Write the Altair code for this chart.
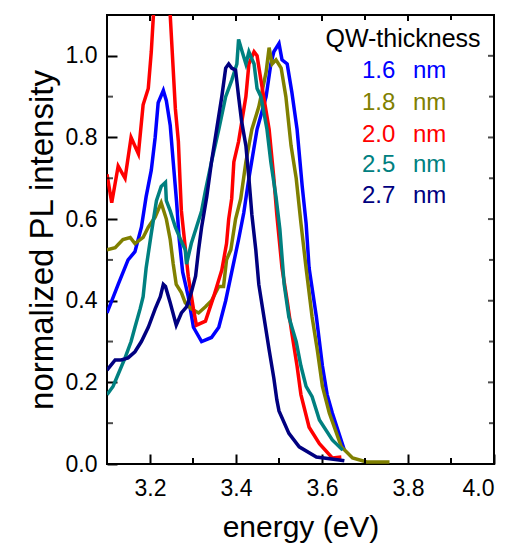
import altair as alt
import pandas as pd

# ---- data ----
names = ["1.6 nm", "1.8 nm", "2.0 nm", "2.5 nm", "2.7 nm"]
colors = ["#0000FF", "#808000", "#FF0000", "#008080", "#000080"]

blue_e = [3.100, 3.126, 3.149, 3.165, 3.180, 3.191, 3.203, 3.212, 3.219, 3.231, 3.238, 3.247, 3.254,
          3.262, 3.268, 3.276, 3.289, 3.301, 3.320, 3.343, 3.360, 3.376, 3.390, 3.406, 3.418, 3.430,
          3.449, 3.470, 3.481, 3.488, 3.500, 3.507, 3.519, 3.530, 3.542, 3.554, 3.563, 3.570, 3.587,
          3.601, 3.612, 3.624, 3.652]
blue_i = [0.37, 0.44, 0.50, 0.52, 0.58, 0.655, 0.72, 0.80, 0.885, 0.915, 0.89, 0.83, 0.74,
          0.64, 0.55, 0.47, 0.41, 0.335, 0.30, 0.31, 0.335, 0.40, 0.47, 0.55, 0.615, 0.70,
          0.82, 0.90, 0.98, 1.01, 1.03, 0.99, 0.98, 0.91, 0.82, 0.68, 0.59, 0.48, 0.36,
          0.24, 0.17, 0.125, 0.034]

olive_e = [3.100, 3.119, 3.137, 3.154, 3.165, 3.184, 3.196, 3.212, 3.226, 3.238, 3.247, 3.254, 3.261,
           3.273, 3.282, 3.296, 3.313, 3.329, 3.343, 3.360, 3.371, 3.378, 3.388, 3.399, 3.411, 3.423,
           3.437, 3.453, 3.470, 3.477, 3.484, 3.493, 3.505, 3.516, 3.528, 3.540, 3.551, 3.563, 3.577,
           3.589, 3.601, 3.617, 3.645, 3.671, 3.704, 3.757]
olive_i = [0.525, 0.53, 0.55, 0.555, 0.54, 0.555, 0.58, 0.605, 0.64, 0.60, 0.55, 0.49, 0.44,
           0.42, 0.395, 0.38, 0.37, 0.385, 0.40, 0.435, 0.435, 0.50, 0.525, 0.60, 0.65, 0.74,
           0.82, 0.875, 0.96, 1.02, 0.98, 0.99, 0.97, 0.90, 0.78, 0.70, 0.59, 0.48, 0.36,
           0.28, 0.19, 0.125, 0.042, 0.015, 0.005, 0.005]

red_e = [3.100, 3.111, 3.126, 3.142, 3.156, 3.173, 3.184, 3.196, 3.203, 3.208, 3.225, 3.247, 3.259,
         3.266, 3.270, 3.273, 3.278, 3.289, 3.301, 3.308, 3.329, 3.348, 3.367, 3.378, 3.383, 3.390,
         3.395, 3.406, 3.423, 3.430, 3.442, 3.449, 3.458, 3.477, 3.488, 3.495, 3.507, 3.519, 3.530,
         3.542, 3.551, 3.570, 3.594, 3.624, 3.645]
red_i = [0.71, 0.64, 0.73, 0.70, 0.80, 0.76, 0.88, 0.92, 1.01, 1.10, 1.45, 1.10, 0.87,
         0.79, 0.69, 0.62, 0.57, 0.46, 0.38, 0.34, 0.35, 0.41, 0.475, 0.54, 0.60, 0.65,
         0.74, 0.79, 0.90, 0.98, 1.01, 1.00, 0.94, 0.82, 0.70, 0.61, 0.48, 0.40, 0.32,
         0.24, 0.17, 0.09, 0.05, 0.015, 0.017]

teal_e = [3.100, 3.114, 3.126, 3.142, 3.156, 3.165, 3.177, 3.184, 3.191, 3.203, 3.215, 3.226, 3.236,
          3.238, 3.247, 3.259, 3.271, 3.282, 3.285, 3.296, 3.308, 3.320, 3.329, 3.343, 3.360, 3.376,
          3.390, 3.402, 3.406, 3.413, 3.423, 3.430, 3.442, 3.449, 3.458, 3.465, 3.472, 3.481, 3.493,
          3.502, 3.512, 3.523, 3.540, 3.551, 3.563, 3.577, 3.594, 3.624, 3.648]
teal_i = [0.17, 0.19, 0.22, 0.26, 0.30, 0.335, 0.38, 0.41, 0.48, 0.565, 0.645, 0.68, 0.69,
          0.645, 0.62, 0.58, 0.55, 0.525, 0.49, 0.54, 0.58, 0.62, 0.67, 0.74, 0.82, 0.90,
          0.94, 0.98, 1.04, 1.015, 0.98, 1.01, 0.98, 0.92, 0.90, 0.86, 0.82, 0.74, 0.655,
          0.575, 0.44, 0.36, 0.30, 0.24, 0.19, 0.165, 0.108, 0.059, 0.034]

navy_e = [3.100, 3.119, 3.133, 3.149, 3.165, 3.180, 3.196, 3.212, 3.224, 3.231, 3.236, 3.247, 3.261,
          3.273, 3.285, 3.296, 3.306, 3.313, 3.320, 3.332, 3.343, 3.355, 3.367, 3.376, 3.383, 3.390,
          3.399, 3.406, 3.413, 3.423, 3.430, 3.437, 3.446, 3.453, 3.465, 3.477, 3.488, 3.495, 3.500,
          3.523, 3.547, 3.587, 3.640, 3.652]
navy_i = [0.23, 0.255, 0.255, 0.26, 0.275, 0.30, 0.335, 0.38, 0.41, 0.44, 0.435, 0.395, 0.34,
          0.37, 0.385, 0.42, 0.46, 0.525, 0.58, 0.655, 0.74, 0.82, 0.90, 0.97, 0.98, 0.97,
          0.965, 0.90, 0.84, 0.78, 0.70, 0.61, 0.525, 0.44, 0.36, 0.28, 0.21, 0.157, 0.13,
          0.075, 0.042, 0.017, 0.01, 0.008]

legend_title = "QW-thickness"
legend_numbers = ["1.6", "1.8", "2.0", "2.5", "2.7"]
legend_unit = "nm"

x_major = [3.2, 3.4, 3.6, 3.8, 4.0]
x_minor = [3.1, 3.3, 3.5, 3.7, 3.9]
y_major = [0.0, 0.2, 0.4, 0.6, 0.8, 1.0]
y_minor = [0.1, 0.3, 0.5, 0.7, 0.9, 1.1]

# ---- build table ----
rows = []
for name, es, ys in zip(names, [blue_e, olive_e, red_e, teal_e, navy_e],
                        [blue_i, olive_i, red_i, teal_i, navy_i]):
    for k, (e, v) in enumerate(zip(es, ys)):
        rows.append({"series": name, "energy": e, "intensity": v, "idx": k})
df = pd.DataFrame(rows)

W, H = 387, 449
FONT = "Liberation Sans"
TK = 10
xs = alt.Scale(domain=[3.1, 4.0], nice=False, zero=False)
ys_ = alt.Scale(domain=[0.0, 1.1], nice=False, zero=False)

lines = alt.Chart(df).mark_line(strokeWidth=3.5, clip=True).encode(
    x=alt.X("energy:Q", scale=xs,
            axis=alt.Axis(values=x_major, format=".1f", ticks=True, tickSize=TK, offset=-TK,
                          tickColor="black", tickWidth=2, domain=False, grid=False,
                          labelFontSize=23, labelPadding=13, labelFont=FONT, labelColor="black",
                          title="energy (eV)", titleFontSize=30, titleFont=FONT,
                          titleFontWeight="normal", titlePadding=12, titleColor="black")),
    y=alt.Y("intensity:Q", scale=ys_,
            axis=alt.Axis(values=y_major, format=".1f", ticks=True, tickSize=TK, offset=-TK,
                          tickColor="black", tickWidth=2, domain=False, grid=False,
                          labelFontSize=23, labelPadding=10, labelFont=FONT, labelColor="black",
                          title="normalized PL intensity", titleFontSize=33, titleFont=FONT,
                          titleFontWeight="normal", titlePadding=6, titleColor="black")),
    color=alt.Color("series:N", scale=alt.Scale(domain=names, range=colors), legend=None),
    order="idx:Q",
)

xmin = pd.DataFrame({"tx": x_minor})
xmaj = pd.DataFrame({"tx": x_major})
ymin = pd.DataFrame({"ty": y_minor})
ymaj = pd.DataFrame({"ty": y_major})


def xticks(d, y0, y1):
    return alt.Chart(d).mark_rule(color="black", strokeWidth=2).encode(
        x=alt.X("tx:Q"), y=alt.value(y0), y2=alt.value(y1))


def yticks(d, xc, size):
    return alt.Chart(d).mark_tick(color="black", orient="horizontal", thickness=2, size=size).encode(
        y=alt.Y("ty:Q"), x=alt.value(xc))


ticks = [
    xticks(xmin, H, H - 6),
    xticks(xmaj, 0, 6), xticks(xmin, 0, 5),
    yticks(ymin, 3, 6),
    yticks(ymaj, W - 3, 6), yticks(ymin, W - 2.5, 5),
]

one = pd.DataFrame({"k": [0]})
texts = [alt.Chart(one).mark_text(text=legend_title, font=FONT, fontSize=25, align="center",
                                  baseline="alphabetic", color="black")
         .encode(x=alt.value(296), y=alt.value(32))]
entry_y = [63, 95, 127, 157, 188]
for num, col, yy in zip(legend_numbers, colors, entry_y):
    texts.append(alt.Chart(one).mark_text(text=num, font=FONT, fontSize=24, align="left",
                                          baseline="alphabetic", color=col)
                 .encode(x=alt.value(255), y=alt.value(yy)))
    texts.append(alt.Chart(one).mark_text(text=legend_unit, font=FONT, fontSize=24, align="left",
                                          baseline="alphabetic", color=col)
                 .encode(x=alt.value(306), y=alt.value(yy)))

chart = alt.layer(lines, *ticks, *texts).properties(
    width=W, height=H,
    autosize=alt.AutoSizeParams(type="none"),
    padding={"left": 107, "top": 15, "right": 18, "bottom": 86},
).configure_view(stroke="black", strokeWidth=2)

chart.save("out.html", embed_options={"renderer": "svg", "actions": False})
